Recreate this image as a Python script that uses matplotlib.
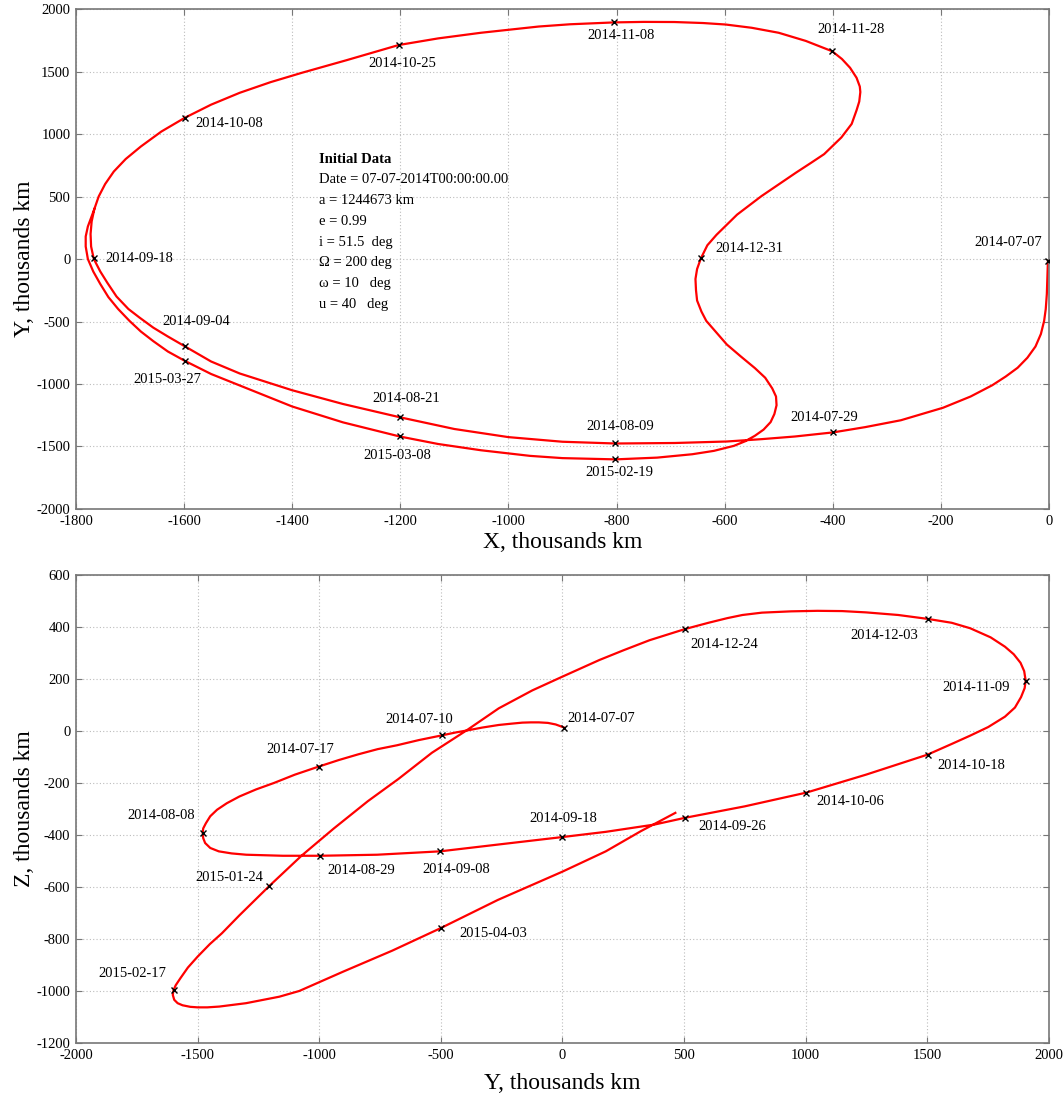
import matplotlib
matplotlib.use('Agg')
import matplotlib.pyplot as plt

plt.rcParams['font.family'] = ['Liberation Serif', 'DejaVu Serif']
plt.rcParams['axes.unicode_minus'] = False

### Data (thousands km)

# X-Y projection of the trajectory, 2014-07-07 .. 2015-04
xy_x = [-2, -3, -4, -6, -9, -15, -25, -40, -58, -80, -105, -145, -196, -274, -340,
        -399, -470, -531, -596, -692, -802, -900, -1000, -1100, -1201, -1306, -1400,
        -1497, -1550, -1599, -1630, -1657, -1682, -1703, -1725, -1742, -1755, -1767,
        -1772, -1773, -1771, -1766, -1758, -1746, -1730, -1708, -1680, -1642, -1599,
        -1550, -1497, -1440, -1382, -1300, -1203, -1130, -1051, -944, -886, -804,
        -750, -693, -640, -598, -550, -500, -450, -401, -383, -368, -356, -350, -349,
        -351, -356, -365, -384, -416, -440, -468, -500, -532, -577, -615, -632, -644,
        -651, -654, -653, -651, -643, -634, -615, -596, -570, -544, -525, -512, -505,
        -504, -508, -515, -528, -544, -562, -583, -620, -660, -725, -802, -900, -960,
        -1051, -1130, -1201, -1306, -1400, -1497, -1550, -1599, -1630, -1657, -1680,
        -1701, -1722, -1740, -1755, -1768, -1778, -1782, -1782, -1778, -1772, -1766]
xy_y = [-16, -150, -280, -400, -495, -600, -700, -790, -870, -940, -1010, -1100,
        -1190, -1290, -1345, -1387, -1420, -1441, -1460, -1472, -1476, -1462, -1425,
        -1360, -1266, -1160, -1050, -916, -820, -698, -620, -549, -470, -400, -300,
        -190, -100, 0, 100, 200, 300, 400, 500, 600, 700, 800, 900, 1020, 1129, 1235,
        1330, 1415, 1490, 1590, 1712, 1765, 1810, 1860, 1878, 1893, 1897, 1896, 1888,
        1876, 1850, 1810, 1745, 1662, 1600, 1530, 1450, 1380, 1336, 1260, 1190, 1081,
        973, 839, 770, 691, 597, 503, 355, 194, 110, 5, -80, -160, -250, -332, -420,
        -495, -590, -684, -780, -873, -950, -1035, -1100, -1170, -1240, -1305, -1365,
        -1414, -1458, -1495, -1535, -1562, -1589, -1603, -1593, -1575, -1530, -1480,
        -1420, -1307, -1180, -1012, -920, -814, -740, -657, -580, -495, -400, -305,
        -200, -100, 0, 100, 180, 260, 330, 400]

xy_mark_x = [-2, -399, -802, -802, -1201, -1201, -1599, -1599, -1766, -1599, -1203,
             -804, -401, -644]
xy_mark_y = [-16, -1387, -1476, -1603, -1266, -1420, -698, -814, 5, 1129, 1712, 1893,
             1662, 5]
xy_dates = ['2014-07-07', '2014-07-29', '2014-08-09', '2015-02-19', '2014-08-21',
            '2015-03-08', '2014-09-04', '2015-03-27', '2014-09-18', '2014-10-08',
            '2014-10-25', '2014-11-08', '2014-11-28', '2014-12-31']

# Y-Z projection of the trajectory
yz_y = [7, -28, -60, -97, -130, -165, -210, -262, -330, -386, -440, -496, -590, -680,
        -760, -840, -920, -1002, -1100, -1186, -1260, -1328, -1380, -1420, -1448,
        -1466, -1477, -1479, -1477, -1469, -1448, -1413, -1360, -1300, -1150, -995,
        -762, -503, -266, 0, 178, 378, 504, 749, 1003, 1248, 1501, 1600, 1676, 1750,
        1819, 1860, 1885, 1900, 1904, 1898, 1883, 1855, 1819, 1760, 1676, 1600, 1501,
        1380, 1248, 1150, 1048, 940, 820, 740, 678, 600, 504, 358, 250, 152, 0, -124,
        -262, -393, -537, -675, -800, -940, -1073, -1205, -1328, -1400, -1450, -1500,
        -1540, -1570, -1590, -1599, -1602, -1596, -1582, -1562, -1530, -1500, -1460,
        -1411, -1301, -1164, -1082, -900, -700, -500, -266, 0, 178, 321, 464]
yz_z = [13, 25, 31, 33, 33, 32, 28, 23, 13, 3, -6, -17, -35, -55, -70, -90, -112,
        -137, -168, -200, -225, -252, -278, -303, -328, -355, -375, -392, -412, -431,
        -450, -463, -471, -476, -480, -480, -476, -463, -437, -408, -388, -360, -334,
        -290, -237, -168, -91, -50, -18, 15, 55, 90, 130, 165, 194, 230, 262, 295, 324,
        360, 395, 416, 431, 446, 456, 461, 462, 460, 455, 446, 434, 416, 392, 349, 310,
        273, 209, 156, 87, 3, -84, -185, -270, -375, -480, -596, -709, -778, -820,
        -868, -910, -950, -978, -997, -1015, -1034, -1047, -1055, -1061, -1063, -1063,
        -1060, -1047, -1022, -1000, -925, -845, -758, -650, -541, -463, -386, -315]

yz_mark_y = [7, -496, -1002, -1479, -995, -503, -1205, -1599, -500, 0, 504, 1003,
             1501, 1904, 1501, 504]
yz_mark_z = [13, -17, -137, -392, -480, -463, -596, -997, -758, -408, -334, -237,
             -91, 194, 431, 392]
yz_dates = ['2014-07-07', '2014-07-10', '2014-07-17', '2014-08-08', '2014-08-29',
            '2014-09-08', '2015-01-24', '2015-02-17', '2015-04-03', '2014-09-18',
            '2014-09-26', '2014-10-06', '2014-10-18', '2014-11-09', '2014-12-03',
            '2014-12-24']

info_lines = ['Initial Data', 'Date = 07-07-2014T00:00:00.00', 'a = 1244673 km',
              'e = 0.99', 'i = 51.5  deg', '\u03a9 = 200 deg', '\u03c9 = 10   deg',
              'u = 40   deg']

### Label layout (pixel offsets from each marker, alignment)

xy_offsets = [(-40, 19, 'center'), (-9, 15, 'center'), (5, 17, 'center'),
              (4, -13, 'center'), (6, 19, 'center'), (-2, -19, 'center'),
              (12, 25, 'center'), (-17, -19, 'center'), (11, 0, 'left'),
              (11, -6, 'left'), (4, -18, 'center'), (7, -13, 'center'),
              (19, 22, 'center'), (15, 10, 'left')]
yz_offsets = [(3, 9, 'left'), (-23, 16, 'center'), (-18, 17, 'center'),
              (-42, 17, 'center'), (41, -15, 'center'), (16, -18, 'center'),
              (-40, 8, 'center'), (-41, 17, 'center'), (52, -5, 'center'),
              (1, 19, 'center'), (47, -9, 'center'), (44, -9, 'center'),
              (44, -11, 'center'), (-50, -7, 'center'), (-43, -17, 'center'),
              (39, -15, 'center')]

### Figure

fig = plt.figure(figsize=(10.64, 11.01), dpi=100)
ax1 = fig.add_axes([0.0714, 0.5377, 0.9145, 0.4541])
ax2 = fig.add_axes([0.0714, 0.0527, 0.9145, 0.4251])


def style_axes(ax):
    ax.grid(True, color='#bcbcbc', linestyle=(0, (1, 2)), linewidth=0.8)
    ax.set_axisbelow(True)
    ax.tick_params(direction='in', top=True, right=True, length=4, width=0.8,
                   color='#777777', labelsize=10.5, pad=4)
    for sp in ax.spines.values():
        sp.set_color('#777777')
        sp.set_linewidth(1.2)


def draw_orbit(ax, xs, ys, mx, my, dates, offsets):
    ax.plot(xs, ys, color='#ff0000', linewidth=1.6, zorder=2,
            solid_joinstyle='round')
    ax.plot(mx, my, linestyle='none', marker='x', color='black', markersize=4.5,
            markeredgewidth=1.0, zorder=3)
    for x, y, d, (dx, dy, ha) in zip(mx, my, dates, offsets):
        ax.annotate(d, (x, y), xytext=(dx, dy), textcoords='offset pixels',
                    ha=ha, va='center', fontsize=10.5)


# X-Y plane
style_axes(ax1)
draw_orbit(ax1, xy_x, xy_y, xy_mark_x, xy_mark_y, xy_dates, xy_offsets)
ax1.set_xlim(-1800, 0)
ax1.set_ylim(-2000, 2000)
ax1.set_xticks(range(-1800, 1, 200))
ax1.set_yticks(range(-2000, 2001, 500))
ax1.set_xlabel('X, thousands km', fontsize=17, labelpad=3)
ax1.set_ylabel('Y, thousands km', fontsize=17, labelpad=1)

for i, line in enumerate(info_lines):
    ax1.text(-1351, 800 - i * 166, line, fontsize=10.5, va='center', ha='left',
             fontweight='bold' if i == 0 else 'normal')

# Y-Z plane
style_axes(ax2)
draw_orbit(ax2, yz_y, yz_z, yz_mark_y, yz_mark_z, yz_dates, yz_offsets)
ax2.set_xlim(-2000, 2000)
ax2.set_ylim(-1200, 600)
ax2.set_xticks(range(-2000, 2001, 500))
ax2.set_yticks(range(-1200, 601, 200))
ax2.set_xlabel('Y, thousands km', fontsize=17, labelpad=8)
ax2.set_ylabel('Z, thousands km', fontsize=17, labelpad=1)

fig.savefig('out.png', dpi=100)
plt.close(fig)
